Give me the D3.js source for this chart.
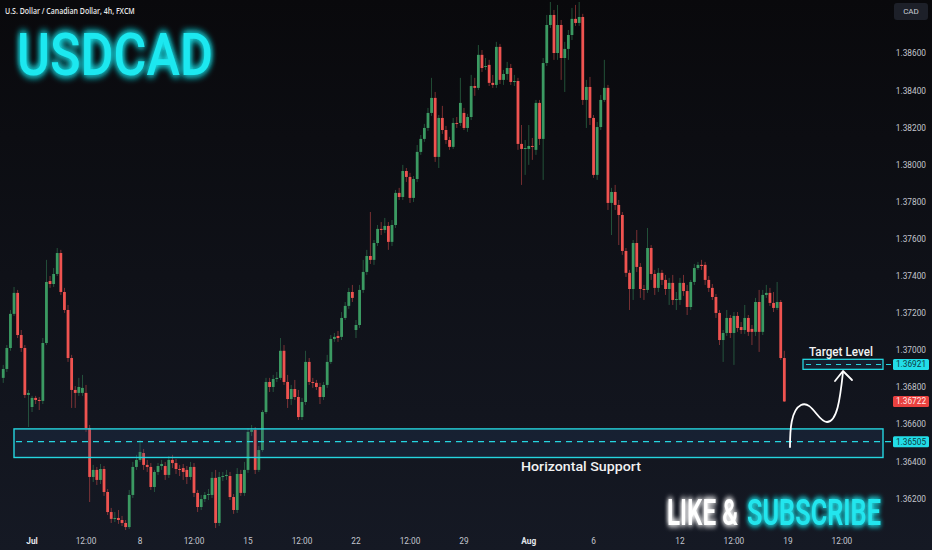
<!DOCTYPE html>
<html><head><meta charset="utf-8">
<script src="https://cdn.jsdelivr.net/npm/d3@7/dist/d3.min.js"></script>
<style>html,body{margin:0;padding:0;background:#0c0d12;overflow:hidden}</style>
</head><body><svg id="c" width="932" height="550"></svg>
<script>
// ---- data (USD/CAD 4h, FXCM) ----
const opens = [
1.36849,1.36897,1.37010,1.37194,1.37307,1.37080,1.37010,1.36757,1.36692,1.36741,
1.36730,1.36725,1.37037,1.37371,1.37355,1.37409,1.37522,1.37312,1.37215,1.36956,
1.36784,1.36768,1.36768,1.36768,1.36579,1.36315,1.36353,1.36299,1.36358,1.36234,
1.36126,1.36089,1.36094,1.36083,1.36067,1.36045,1.36218,1.36369,1.36407,1.36444,
1.36380,1.36369,1.36261,1.36342,1.36374,1.36374,1.36326,1.36407,1.36390,1.36358,
1.36363,1.36353,1.36315,1.36369,1.36229,1.36153,1.36196,1.36218,1.36218,1.36310,
1.36067,1.36315,1.36320,1.36320,1.36207,1.36137,1.36331,1.36229,1.36353,1.36558,
1.36568,1.36353,1.36460,1.36665,1.36827,1.36800,1.36843,1.36849,1.36995,1.36827,
1.36735,1.36789,1.36746,1.36638,1.36719,1.36935,1.36827,1.36822,1.36800,1.36746,
1.36811,1.36935,1.37059,1.37075,1.37070,1.37172,1.37237,1.37312,1.37107,1.37134,
1.37323,1.37420,1.37506,1.37485,1.37576,1.37652,1.37646,1.37668,1.37582,1.37673,
1.37846,1.37824,1.37964,1.37932,1.37819,1.37921,1.38067,1.38137,1.38196,1.38277,
1.38358,1.38040,1.38250,1.38185,1.38131,1.38094,1.38223,1.38223,1.38277,1.38196,
1.38255,1.38422,1.38412,1.38590,1.38525,1.38536,1.38439,1.38428,1.38633,1.38455,
1.38487,1.38519,1.38444,1.38449,1.38110,1.38083,1.38083,1.38099,1.38078,1.38331,
1.38137,1.38546,1.38751,1.38805,1.38600,1.38751,1.38573,1.38622,1.38697,1.38784,
1.38762,1.38794,1.38347,1.38417,1.38250,1.37943,1.38201,1.38347,1.38412,1.37792,
1.37851,1.37781,1.37727,1.37533,1.37415,1.37328,1.37576,1.37447,1.37328,1.37323,
1.37549,1.37409,1.37334,1.37415,1.37377,1.37328,1.37361,1.37269,1.37269,1.37361,
1.37317,1.37231,1.37366,1.37441,1.37458,1.37458,1.37377,1.37334,1.37285,1.37199,
1.37053,1.37091,1.37172,1.37091,1.37183,1.37123,1.37107,1.37172,1.37113,1.37097,
1.37258,1.37097,1.37296,1.37307,1.37253,1.37226,1.37258,1.36956];
const highs = [
1.36919,1.37026,1.37215,1.37339,1.37323,1.37107,1.37026,1.36784,1.36752,1.36752,
1.36746,1.37064,1.37485,1.37398,1.37441,1.37549,1.37539,1.37334,1.37242,1.36973,
1.36805,1.36849,1.36865,1.36811,1.36595,1.36380,1.36369,1.36385,1.36374,1.36250,
1.36148,1.36126,1.36137,1.36105,1.36083,1.36245,1.36396,1.36434,1.36514,1.36466,
1.36407,1.36390,1.36353,1.36390,1.36407,1.36396,1.36428,1.36434,1.36412,1.36380,
1.36385,1.36374,1.36396,1.36390,1.36245,1.36218,1.36234,1.36250,1.36342,1.36353,
1.36342,1.36342,1.36353,1.36342,1.36223,1.36363,1.36353,1.36396,1.36579,1.36595,
1.36584,1.36482,1.36676,1.36849,1.36849,1.36865,1.36881,1.37064,1.37026,1.36865,
1.36811,1.36838,1.36784,1.36741,1.36995,1.36956,1.36849,1.36838,1.36822,1.36827,
1.36973,1.37080,1.37091,1.37102,1.37204,1.37258,1.37334,1.37350,1.37161,1.37350,
1.37485,1.37539,1.37743,1.37592,1.37673,1.37689,1.37711,1.37689,1.37700,1.37862,
1.37873,1.37997,1.37980,1.37954,1.37937,1.38104,1.38158,1.38218,1.38304,1.38466,
1.38390,1.38266,1.38315,1.38207,1.38148,1.38250,1.38255,1.38466,1.38304,1.38272,
1.38482,1.38466,1.38643,1.38616,1.38573,1.38563,1.38482,1.38660,1.38649,1.38509,
1.38552,1.38541,1.38482,1.38466,1.38212,1.38131,1.38212,1.38142,1.38347,1.38347,
1.38573,1.38805,1.38875,1.38832,1.38859,1.38778,1.38660,1.38724,1.38843,1.38859,
1.38875,1.38811,1.38455,1.38471,1.38266,1.38228,1.38374,1.38563,1.38428,1.37873,
1.37889,1.37808,1.37743,1.37549,1.37431,1.37592,1.37646,1.37468,1.37350,1.37657,
1.37565,1.37431,1.37441,1.37431,1.37404,1.37388,1.37404,1.37312,1.37388,1.37404,
1.37350,1.37377,1.37463,1.37474,1.37485,1.37474,1.37398,1.37355,1.37301,1.37215,
1.37107,1.37215,1.37188,1.37204,1.37204,1.37150,1.37242,1.37188,1.37134,1.37280,
1.37323,1.37323,1.37350,1.37334,1.37312,1.37366,1.37269,1.36995];
const lows = [
1.36822,1.36881,1.36995,1.37183,1.37064,1.36989,1.36741,1.36584,1.36665,1.36708,
1.36676,1.36708,1.37026,1.37334,1.37339,1.37398,1.37296,1.37199,1.36935,1.36687,
1.36687,1.36752,1.36752,1.36558,1.36180,1.36288,1.36272,1.36277,1.36213,1.36110,
1.36067,1.36072,1.36062,1.36051,1.36029,1.36035,1.36202,1.36353,1.36396,1.36353,
1.36342,1.36245,1.36234,1.36326,1.36353,1.36299,1.36310,1.36363,1.36331,1.36320,
1.36299,1.36277,1.36299,1.36207,1.36126,1.36137,1.36180,1.36191,1.36202,1.36040,
1.36051,1.36293,1.36299,1.36191,1.36116,1.36121,1.36213,1.36213,1.36337,1.36536,
1.36331,1.36342,1.36450,1.36655,1.36773,1.36773,1.36827,1.36838,1.36811,1.36687,
1.36703,1.36730,1.36622,1.36622,1.36703,1.36811,1.36795,1.36784,1.36708,1.36730,
1.36795,1.36924,1.37043,1.37043,1.37053,1.37161,1.37221,1.37258,1.37064,1.37118,
1.37307,1.37404,1.37463,1.37458,1.37560,1.37619,1.37630,1.37539,1.37560,1.37657,
1.37808,1.37808,1.37905,1.37792,1.37797,1.37905,1.38051,1.38121,1.38180,1.38261,
1.38013,1.37980,1.38164,1.38110,1.38078,1.38083,1.38196,1.38207,1.38185,1.38175,
1.38239,1.38369,1.38401,1.38498,1.38509,1.38422,1.38412,1.38412,1.38433,1.38428,
1.38455,1.38428,1.38422,1.38078,1.37889,1.37943,1.37997,1.38024,1.38051,1.38104,
1.37916,1.38530,1.38735,1.38563,1.38563,1.38455,1.38390,1.38563,1.38670,1.38746,
1.38746,1.38320,1.38196,1.38212,1.37927,1.37916,1.38185,1.38336,1.37754,1.37619,
1.37754,1.37565,1.37512,1.37393,1.37215,1.37269,1.37420,1.37280,1.37269,1.37307,
1.37377,1.37296,1.37312,1.37350,1.37296,1.37242,1.37242,1.37215,1.37242,1.37291,
1.37188,1.37215,1.37350,1.37431,1.37431,1.37350,1.37312,1.37269,1.37172,1.37026,
1.36935,1.37075,1.37064,1.36919,1.37097,1.37086,1.37086,1.37075,1.37026,1.37075,
1.36989,1.37080,1.37280,1.37237,1.37204,1.37215,1.36946,1.36719];
const closes = [
1.36897,1.37010,1.37194,1.37307,1.37080,1.37010,1.36757,1.36768,1.36741,1.36730,
1.36725,1.37037,1.37366,1.37355,1.37409,1.37522,1.37312,1.37215,1.36956,1.36784,
1.36768,1.36800,1.36795,1.36579,1.36315,1.36353,1.36299,1.36358,1.36234,1.36126,
1.36089,1.36094,1.36083,1.36067,1.36045,1.36218,1.36369,1.36407,1.36450,1.36380,
1.36369,1.36261,1.36342,1.36374,1.36385,1.36326,1.36407,1.36390,1.36358,1.36353,
1.36342,1.36315,1.36369,1.36229,1.36153,1.36196,1.36218,1.36223,1.36310,1.36067,
1.36315,1.36320,1.36326,1.36207,1.36137,1.36331,1.36229,1.36353,1.36558,1.36568,
1.36353,1.36460,1.36665,1.36827,1.36800,1.36843,1.36849,1.36995,1.36827,1.36735,
1.36789,1.36746,1.36638,1.36719,1.36935,1.36827,1.36822,1.36800,1.36746,1.36811,
1.36935,1.37059,1.37070,1.37064,1.37172,1.37237,1.37312,1.37280,1.37134,1.37323,
1.37420,1.37506,1.37485,1.37576,1.37652,1.37646,1.37668,1.37582,1.37673,1.37846,
1.37824,1.37964,1.37932,1.37819,1.37921,1.38067,1.38137,1.38196,1.38277,1.38358,
1.38040,1.38250,1.38185,1.38131,1.38094,1.38223,1.38218,1.38331,1.38196,1.38255,
1.38422,1.38412,1.38590,1.38519,1.38530,1.38439,1.38428,1.38633,1.38455,1.38487,
1.38519,1.38444,1.38449,1.38110,1.38083,1.38088,1.38099,1.38094,1.38331,1.38137,
1.38546,1.38751,1.38805,1.38600,1.38751,1.38573,1.38622,1.38697,1.38784,1.38762,
1.38794,1.38347,1.38417,1.38250,1.37943,1.38201,1.38347,1.38412,1.37792,1.37851,
1.37781,1.37727,1.37533,1.37415,1.37328,1.37576,1.37447,1.37328,1.37323,1.37549,
1.37409,1.37334,1.37415,1.37377,1.37328,1.37361,1.37269,1.37274,1.37361,1.37317,
1.37231,1.37366,1.37441,1.37458,1.37452,1.37377,1.37334,1.37285,1.37199,1.37053,
1.37091,1.37172,1.37091,1.37183,1.37118,1.37107,1.37172,1.37097,1.37097,1.37258,
1.37097,1.37296,1.37307,1.37253,1.37226,1.37258,1.36956,1.36722];

const yTicks = [1.362,1.364,1.366,1.368,1.370,1.372,1.374,1.376,1.378,1.380,1.382,1.384,1.386];
const xTickIdx = [8,23,38,53,68,83,98,113,128,146,164,188,203,218,233];
const xTickLabels = ["Jul","12:00","8","12:00","15","12:00","22","12:00","29","Aug","6","12","12:00","19","12:00"];
const supportZone = [1.36420, 1.36574];
const supportLevel = 1.36505;
const targetZone = [1.36895, 1.36949];
const targetLevel = 1.36921;
const lastPrice = 1.36722;

// ---- drawing ----
const W = 932, H = 550, plotR = 888;
const svg = d3.select("#c");
const defs = svg.append("defs");
const bg = defs.append("linearGradient").attr("id","bg").attr("x1",0).attr("y1",0).attr("x2",0).attr("y2",1);
bg.append("stop").attr("offset","0%").attr("stop-color","#09090c");
bg.append("stop").attr("offset","100%").attr("stop-color","#151924");
function glow(id, sd){
  const f = defs.append("filter").attr("id",id).attr("x","-20%").attr("y","-40%").attr("width","140%").attr("height","180%");
  f.append("feGaussianBlur").attr("in","SourceGraphic").attr("stdDeviation",sd).attr("result","b");
  const m = f.append("feMerge");
  m.append("feMergeNode").attr("in","b");
  m.append("feMergeNode").attr("in","b");
  m.append("feMergeNode").attr("in","SourceGraphic");
}
glow("glowC",4); glow("glowS",3);

svg.append("rect").attr("width",W).attr("height",H).attr("fill","url(#bg)");

const x = d3.scaleLinear().domain([-0.9, 245.8]).range([0, plotR]);
const y = d3.scaleLinear().domain([1.362, 1.386]).range([498.3, 53]);

const data = closes.map((c,i)=>({i, o:opens[i], h:highs[i], l:lows[i], c}));
const UP = "#3b9a62", DN = "#ef5350";
const g = svg.append("g");
g.selectAll("line.w").data(data).join("line").attr("class","w")
  .attr("x1",d=>x(d.i)).attr("x2",d=>x(d.i))
  .attr("y1",d=>y(d.h)).attr("y2",d=>y(d.l))
  .attr("stroke",d=>d.c>=d.o?UP:DN).attr("stroke-width",0.8).attr("opacity",0.6);
g.selectAll("rect.b").data(data).join("rect").attr("class","b")
  .attr("x",d=>x(d.i)-1.4).attr("width",2.8)
  .attr("y",d=>y(Math.max(d.o,d.c)))
  .attr("height",d=>Math.max(1, Math.abs(y(d.o)-y(d.c))))
  .attr("fill",d=>d.c>=d.o?UP:DN);

const CY = "#25d6e0";
// fit a text horizontally to a target width with a transform (keeps glyph height)
function fitText(sel, tx, ty, targetW){
  const len = sel.node().getComputedTextLength();
  sel.attr("transform",`translate(${tx},${ty}) scale(${targetW/len},1)`);
  return sel;
}

// support zone
svg.append("rect").attr("x",14).attr("width",883-14)
  .attr("y",y(supportZone[1])).attr("height",y(supportZone[0])-y(supportZone[1]))
  .attr("fill","rgba(40,75,120,0.22)").attr("stroke",CY).attr("stroke-width",1.4);
svg.append("line").attr("x1",16).attr("x2",892).attr("y1",y(supportLevel)).attr("y2",y(supportLevel))
  .attr("stroke",CY).attr("stroke-width",1.3).attr("stroke-dasharray","6,5");
fitText(svg.append("text").attr("x",0).attr("y",0)
  .attr("font-family","Roboto, 'Open Sans', sans-serif").attr("font-weight",500).attr("font-size",13.5)
  .attr("fill","#f2f2f2").text("Horizontal Support"), 521, 471, 120);

// target zone
svg.append("rect").attr("x",803).attr("width",80)
  .attr("y",y(targetZone[1])).attr("height",y(targetZone[0])-y(targetZone[1]))
  .attr("fill","rgba(40,75,120,0.22)").attr("stroke",CY).attr("stroke-width",1.3);
svg.append("line").attr("x1",806).attr("x2",892).attr("y1",y(targetLevel)).attr("y2",y(targetLevel))
  .attr("stroke",CY).attr("stroke-width",1.2).attr("stroke-dasharray","5,5");
fitText(svg.append("text").attr("x",0).attr("y",0)
  .attr("font-family","Roboto, 'Open Sans', sans-serif").attr("font-weight",500).attr("font-size",13)
  .attr("fill","#f2f2f2").text("Target Level"), 809, 356, 64);

// hand-drawn arrow
svg.append("path").attr("d","M790,447 C790,430 791,410 801,405 C812,400 818,422 827,422 C837,422 840,400 843,372")
  .attr("fill","none").attr("stroke","#fff").attr("stroke-width",1.8).attr("stroke-linecap","round");
svg.append("path").attr("d","M835,381 L843,371 L852,380")
  .attr("fill","none").attr("stroke","#fff").attr("stroke-width",1.8).attr("stroke-linecap","round").attr("stroke-linejoin","round");

// right price axis
const ax = svg.append("g").attr("transform","translate(926,0)")
  .call(d3.axisRight(y).tickValues(yTicks).tickFormat(d3.format(".5f")).tickSize(0).tickPadding(0));
ax.select(".domain").remove();
ax.selectAll("text").attr("text-anchor","end").attr("fill","#c3c6ce")
  .attr("font-family","Roboto, sans-serif").attr("font-size",8.3).attr("dy","0.35em");

// price labels
function priceTag(v, bgc, fg){
  const cy = y(v);
  svg.append("rect").attr("x",893).attr("y",cy-5.5).attr("width",36).attr("height",11).attr("rx",1.5).attr("fill",bgc);
  svg.append("text").attr("x",911).attr("y",cy).attr("dy","0.35em").attr("text-anchor","middle")
    .attr("font-family","Roboto, sans-serif").attr("font-size",8.3).attr("fill",fg).text(d3.format(".5f")(v));
}
priceTag(targetLevel, "#22dde8", "#0d3a40");
priceTag(lastPrice, "#e8413f", "#ffe9e9");
priceTag(supportLevel, "#22dde8", "#0d3a40");

// CAD badge
svg.append("rect").attr("x",894).attr("y",3).attr("width",34).attr("height",17).attr("rx",3).attr("fill","#1d2029");
svg.append("text").attr("x",911).attr("y",11.5).attr("dy","0.35em").attr("text-anchor","middle")
  .attr("font-family","Roboto, sans-serif").attr("font-size",8).attr("fill","#c9ccd3").text("CAD");

// time axis
svg.append("g").selectAll("text").data(xTickIdx).join("text")
  .attr("x",d=>x(d)).attr("y",541).attr("dy","0.35em").attr("text-anchor","middle")
  .attr("font-family","Roboto, sans-serif").attr("font-size",8.3)
  .attr("font-weight",(d,i)=>(xTickLabels[i]==="Jul"||xTickLabels[i]==="Aug")?700:400)
  .attr("fill",(d,i)=>(xTickLabels[i]==="Jul"||xTickLabels[i]==="Aug")?"#e4e6eb":"#c3c6ce")
  .text((d,i)=>xTickLabels[i]);

// titles
fitText(svg.append("text").attr("x",0).attr("y",0)
  .attr("font-family","'Open Sans', sans-serif").attr("font-weight",600).attr("font-size",8.5)
  .attr("fill","#e8e8e8").text("U.S. Dollar / Canadian Dollar, 4h, FXCM"), 5, 14, 130);
fitText(svg.append("text").attr("x",0).attr("y",0)
  .attr("font-family","Roboto, sans-serif").attr("font-weight",500).attr("font-size",60)
  .attr("fill","#1ce8f0").attr("filter","url(#glowC)").text("USDCAD"), 17, 75, 196);
fitText(svg.append("text").attr("x",0).attr("y",0)
  .attr("font-family","Roboto, sans-serif").attr("font-weight",600).attr("font-size",37)
  .attr("fill","#ffffff").attr("filter","url(#glowS)").text("LIKE &"), 667, 525, 71);
fitText(svg.append("text").attr("x",0).attr("y",0)
  .attr("font-family","Roboto, sans-serif").attr("font-weight",600).attr("font-size",37)
  .attr("fill","#22e6ee").attr("filter","url(#glowS)").text("SUBSCRIBE"), 747, 525, 134);
</script></body></html>
